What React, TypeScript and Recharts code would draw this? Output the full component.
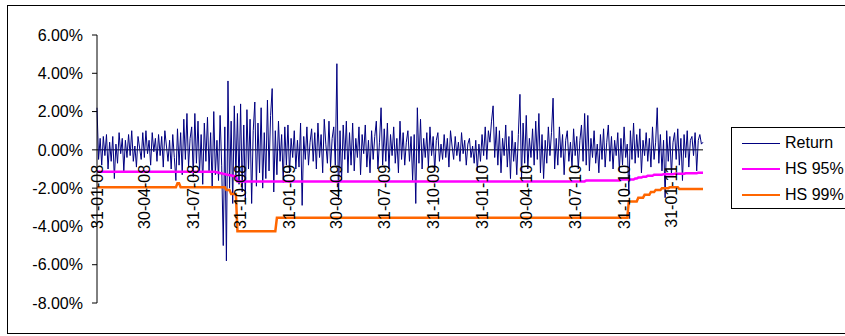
import { LineChart, Line, XAxis, YAxis, ReferenceLine, ReferenceDot } from 'recharts'

// daily returns in % (one value every ~3 days)
const returns = [
  2.2, -0.5, 0.6, -0.8, 0.7, -0.3, 0.8, -1.0, 0.4, -0.6,
  0.7, -1.5, 0.3, -0.7, 0.9, -0.2, 0.6, -1.1, 0.5, -0.4,
  0.8, -0.3, 1.0, -0.6, 0.2, -0.9, 0.7, 0.1, -0.5, 0.9,
  -0.4, 1.0, -0.2, 0.5, -0.8, 0.9, -0.1, 0.6, -0.6, 0.8,
  -0.3, 0.7, -0.9, 1.0, 0.2, -0.6, 0.5, -1.0, 0.8, -0.4,
  -1.6, 1.1, -0.8, 0.9, -1.3, 1.6, -0.5, 1.9, -0.9, 0.6,
  1.2, -1.4, 1.9, -0.7, 1.5, -1.2, 0.8, -1.8, 1.4, -0.6,
  1.7, -1.1, 0.9, -2.0, 2.0, -1.3, 0.5, -1.6, 1.8, -0.8,
  -5.0, 1.2, -5.8, 3.6, -2.0, 1.5, -2.8, 2.3, -1.4, 1.9,
  -1.8, 2.4, -2.2, 1.3, -2.6, 2.1, -1.0, 1.6, -2.8, 1.0,
  2.5, -1.9, 1.4, -1.2, 2.2, -2.0, 0.9, -1.5, 2.6, -1.1,
  1.8, 3.2, -2.2, 1.0, -1.3, 1.5, -0.6, 0.8, -1.7, 1.2,
  -0.8, 1.3, -1.2, 0.6, -0.4, 1.0, -1.0, 0.5, -0.9, 1.4,
  -2.9, 0.7, -0.5, 1.2, -0.8, 0.4, 1.1, -0.6, 0.9, -1.0,
  1.4, -0.4, 0.8, -1.2, 1.6, 0.3, -0.7, 1.5, -0.9, 0.6,
  1.2, -0.8, 4.5, -2.6, 1.0, -1.6, 1.3, -0.5, 1.5, -1.2,
  0.9, -0.8, 1.4, -1.1, 0.6, -0.4, 1.2, -1.3, 0.8, -0.2,
  1.3, -0.9, 0.5, -1.2, 1.0, -0.5, 0.7, 1.5, -1.0, 0.4,
  2.2, -0.8, 1.1, -0.6, 1.4, -1.0, 0.8, -0.3, 1.2, -0.7,
  0.6, -1.2, 1.5, -0.5, 0.9, -0.8, 0.4, 1.0, -0.6, 0.7,
  -1.6, 0.8, -2.8, 2.2, -0.7, 1.6, -1.0, 0.6, -0.4, 0.9,
  -0.9, 1.2, -0.3, 0.7, -1.1, 0.5, 0.9, -0.6, 0.3, -0.5,
  0.8, -0.4, 0.6, -0.9, 1.0, 0.2, -0.5, 0.7, -0.3, 0.4,
  -0.6, 0.9, -0.2, 0.5, -0.8, 0.3, 0.6, -0.4, 0.2, -0.7,
  0.5, -1.1, 0.3, -0.6, 0.8, -0.3, 1.2, -0.5, 1.0, 0.4,
  1.5, 2.3, -0.4, 1.2, -0.8, 1.0, -1.2, 0.6, -0.3, 1.3,
  -0.9, 0.7, -1.5, 1.0, -0.6, 0.4, -1.3, 0.8, 2.9, -1.5,
  1.4, -0.7, 1.8, -1.0, 0.6, -0.4, 1.1, -0.8, 1.5, -0.5,
  1.9, -1.2, 0.8, -1.5, 0.5, -0.7, 1.2, -0.3, 0.9, 2.7,
  -1.0, 0.6, -0.8, 1.2, -0.4, 0.8, -1.3, 0.5, 1.0, -0.6,
  0.4, -0.9, 1.1, -0.3, 0.7, -1.0, 0.5, 1.3, -0.6, 1.9,
  -0.8, 1.8, -1.1, 0.6, -0.4, 1.0, -0.7, 0.3, -1.2, 0.8,
  -0.5, 1.1, -0.9, 0.4, 1.3, -0.6, 0.7, -1.0, 0.5, -0.3,
  0.9, -1.1, 0.6, -0.8, 1.2, -0.4, 0.3, -2.3, 1.0, -0.5,
  1.4, -0.7, 0.8, -0.4, 1.1, -1.2, 0.5, -0.3, 0.9, -0.6,
  0.6, -0.9, 1.2, -0.5, 0.4, 2.2, -0.7, 0.8, -1.1, 0.5,
  -2.5, 1.0, -0.6, 0.7, -1.3, 0.4, 0.9, -0.5, 1.1, -0.8,
  0.6, -1.6, 0.8, -0.4, 1.0, -0.9, 0.5, 0.7, -0.3, 0.9,
  -1.1, 0.5, 0.8, 0.3, 0.4,
]

// VaR series are step functions: [value %, number of points]
const hs95Runs: [number, number][] = [
  [-1.15, 76], [-1.18, 2], [-1.22, 2], [-1.26, 2], [-1.3, 2], [-1.33, 2], [-1.36, 2], [-1.38, 1],
  [-1.65, 221], [-1.6, 22], [-1.55, 9],
  [-1.5, 2], [-1.45, 3], [-1.4, 3], [-1.35, 4], [-1.3, 6], [-1.27, 7], [-1.25, 7], [-1.22, 8], [-1.2, 4],
]

const hs99Runs: [number, number][] = [
  [-1.95, 51], [-1.75, 2], [-1.95, 29], [-2.1, 3], [-2.3, 4], [-4.25, 25], [-3.55, 223],
  [-2.7, 6], [-2.5, 4], [-2.35, 4], [-2.2, 3], [-2.1, 4], [-2.0, 5], [-1.95, 6], [-2.05, 16],
]

const tickIndex = [0, 30, 61, 91, 122, 152, 182, 213, 244, 272, 303, 334, 364]
const tickLabels = [
  '31-01-08', '30-04-08', '31-07-08', '31-10-08', '31-01-09', '30-04-09', '31-07-09',
  '31-10-09', '31-01-10', '30-04-10', '31-07-10', '31-10-10', '31-01-11',
]
const yTicks = [-8, -6, -4, -2, 0, 2, 4, 6]

const expand = (runs: [number, number][]) =>
  runs.flatMap(([v, n]) => Array.from({ length: n }, () => v))

const hs95 = expand(hs95Runs)
const hs99 = expand(hs99Runs)

const data = returns.map((r, i) => ({ i, ret: r, hs95: hs95[i], hs99: hs99[i] }))

const FONT = '"Liberation Sans", Arial, sans-serif'

const legendItems = [
  { label: 'Return', color: '#000080', width: 1 },
  { label: 'HS 95%', color: '#FF00FF', width: 2.5 },
  { label: 'HS 99%', color: '#FF6600', width: 2.5 },
]

export default function App() {
  return (
    <div style={{ position: 'relative', width: 845, height: 336, overflow: 'hidden', background: '#fff', fontFamily: FONT }}>
      <style>{'body{margin:0}'}</style>
      <div style={{ position: 'absolute', left: 7, top: 5, width: 860, height: 329, border: '1px solid #000', boxSizing: 'border-box' }} />
      <LineChart width={845} height={336} data={data} margin={{ top: 35, right: 142, bottom: 33, left: 0 }}>
        <XAxis dataKey="i" type="number" domain={[0, 384]} hide />
        <YAxis
          width={97}
          domain={[-8, 6]}
          ticks={yTicks}
          interval={0}
          tickFormatter={(v: number) => v.toFixed(2) + '%'}
          tick={{ fontSize: 16, fill: '#000', fontFamily: FONT }}
          tickSize={5}
          tickMargin={9}
          axisLine={{ stroke: '#000' }}
          tickLine={{ stroke: '#000' }}
        />
        {tickIndex.map((t, k) => (
          <ReferenceDot
            key={t}
            x={t}
            y={0}
            r={1}
            shape={(p: any) => (
              <text
                x={p.cx}
                y={p.cy + 15}
                transform={`rotate(-90, ${p.cx}, ${p.cy + 15})`}
                textAnchor="end"
                dy="0.35em"
                fontSize={16}
                fontFamily={FONT}
                fill="#000"
              >
                {tickLabels[k]}
              </text>
            )}
          />
        ))}
        <ReferenceLine y={0} stroke="#000" />
        <Line dataKey="ret" stroke="#000080" strokeWidth={1} dot={false} isAnimationActive={false} />
        <Line dataKey="hs95" stroke="#FF00FF" strokeWidth={2.5} dot={false} isAnimationActive={false} />
        <Line dataKey="hs99" stroke="#FF6600" strokeWidth={2.5} dot={false} isAnimationActive={false} />
      </LineChart>
      <div style={{ position: 'absolute', left: 731, top: 127, width: 130, height: 82, border: '1px solid #000', background: '#fff', boxSizing: 'border-box' }}>
        {legendItems.map((it, k) => (
          <div key={it.label} style={{ position: 'absolute', left: 10, top: 6 + k * 26, height: 18, display: 'flex', alignItems: 'center', whiteSpace: 'nowrap' }}>
            <div style={{ width: 38, height: it.width, background: it.color }} />
            <span style={{ marginLeft: 5, fontSize: 16, color: '#000' }}>{it.label}</span>
          </div>
        ))}
      </div>
    </div>
  )
}
